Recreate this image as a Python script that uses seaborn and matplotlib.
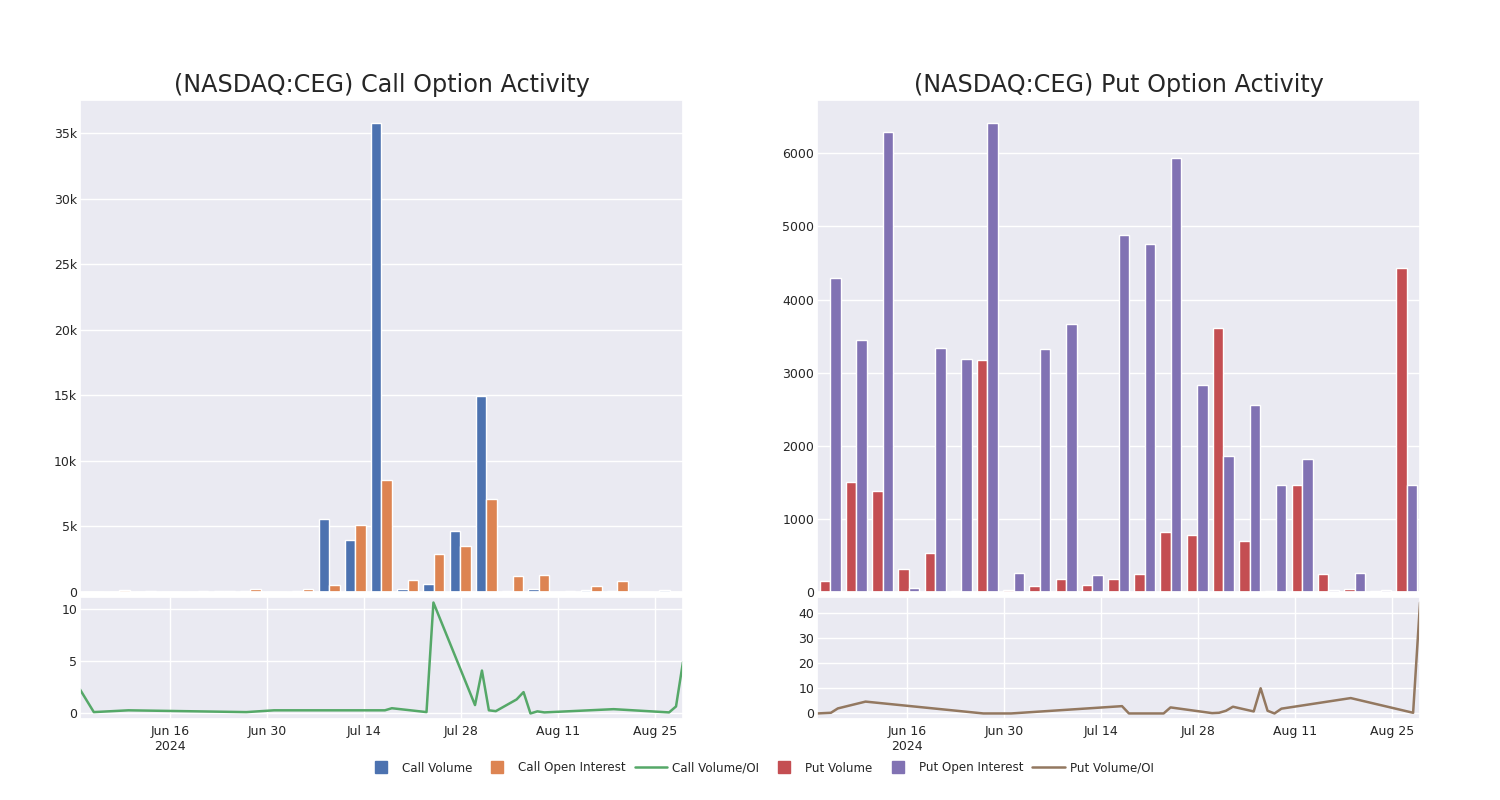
import numpy as np
import pandas as pd
import matplotlib
matplotlib.use("Agg")
import matplotlib.pyplot as plt
import matplotlib.ticker as mticker
from matplotlib.lines import Line2D
import seaborn as sns

# dates of the records (same for call and put)
dates = ["2024-06-03", "2024-06-05", "2024-06-06", "2024-06-10", "2024-06-27",
         "2024-07-01", "2024-07-17", "2024-07-18", "2024-07-23", "2024-07-24",
         "2024-07-30", "2024-07-31", "2024-08-01", "2024-08-02", "2024-08-05",
         "2024-08-06", "2024-08-07", "2024-08-08", "2024-08-09", "2024-08-19",
         "2024-08-27", "2024-08-28", "2024-08-29"]

call_volume = [0, 10, 30, 0, 20, 40, 70, 10, 40, 5547, 3937, 35762, 256, 639,
               4652, 14980, 50, 230, 0, 150, 70, 5, 180]
call_oi = [20, 150, 100, 0, 50, 40, 200, 30, 250, 511, 5112, 8563, 895, 2863,
           3476, 7132, 1227, 1278, 50, 435, 818, 10, 20]
call_ratio = [2.3, 0.13, np.nan, 0.3, 0.13, 0.3, 0.3, 0.5, 0.13, 10.6, 0.8, 4.1,
              0.3, 0.22, 1.34, 2.04, 0.0, 0.2, 0.1, 0.41, 0.1, 0.67, 4.9]

put_volume = [156, 1498, 1383, 321, 531, 9, 3174, 23, 82, 179, 92, 179, 247,
              815, 779, 3610, 696, 14, 1470, 247, 41, 9, 4430]
put_oi = [4301, 3440, 6294, 60, 3339, 3188, 6409, 261, 3317, 3660, 229, 4888,
          4764, 5932, 2836, 1864, 2561, 1470, 1819, 32, 266, 23, 1470]
put_ratio = [0, 0.27, 2.0, 4.7, 0, 0, 2.9, 0, 0, 2.4, 0.13, 0.27, 1.07, 2.67,
             0.8, 10, 1.07, 0, 1.9, 6.1, np.nan, 0.27, 44]

ticker = "NASDAQ:CEG"

sns.set_theme(style="darkgrid")
pal = sns.color_palette("deep")
c_call_vol, c_call_oi, c_call_ratio = pal[0], pal[1], pal[2]
c_put_vol, c_put_oi, c_put_ratio = pal[3], pal[4], pal[5]

fig = plt.figure(figsize=(15, 8), dpi=100)


def bar_panel(left, vol, oi, title, colors, kfmt):
    ax = fig.add_axes([left, 0.26, 0.402, 0.615])
    df = pd.DataFrame({"date": dates * 2,
                       "value": vol + oi,
                       "kind": ["vol"] * len(dates) + ["oi"] * len(dates)})
    sns.barplot(data=df, x="date", y="value", hue="kind", palette=colors,
                saturation=1, legend=False, ax=ax)
    ax.set_xticks(range(0, len(dates), 5))
    ax.tick_params(labelbottom=False, labelsize=9, length=0)
    ax.tick_params(axis="y", pad=2)
    ax.set_xlabel("")
    ax.set_ylabel("")
    ax.set_title(title, fontsize=17.2)
    if kfmt:
        ax.yaxis.set_major_formatter(mticker.FuncFormatter(
            lambda v, p: "0" if v == 0 else f"{int(v / 1000)}k"))
    return ax


def line_panel(left, ratio, color, step=None):
    ax = fig.add_axes([left, 0.10125, 0.402, 0.1525])
    s = pd.DataFrame({"date": pd.to_datetime(dates), "ratio": ratio}).dropna()
    sns.lineplot(data=s, x="date", y="ratio", color=color, linewidth=1.8, ax=ax)
    ax.set_xlim(s["date"].min(), s["date"].max())
    ticks = pd.date_range("2024-06-16", "2024-08-25", freq="14D")
    labels = [d.strftime("%b %d") for d in ticks]
    labels[0] = labels[0] + "\n2024"
    ax.set_xticks(ticks)
    ax.set_xticklabels(labels)
    if step:
        ax.yaxis.set_major_locator(mticker.MultipleLocator(step))
    ax.tick_params(labelsize=9, length=0)
    ax.tick_params(axis="y", pad=2)
    ax.tick_params(axis="x", pad=4)
    ax.set_xlabel("")
    ax.set_ylabel("")
    return ax


bar_panel(0.0533, call_volume, call_oi, f"({ticker}) Call Option Activity",
          [c_call_vol, c_call_oi], True)
bar_panel(0.5447, put_volume, put_oi, f"({ticker}) Put Option Activity",
          [c_put_vol, c_put_oi], False)
line_panel(0.0533, call_ratio, c_call_ratio, 5)
line_panel(0.5447, put_ratio, c_put_ratio, 10)

handles = [
    Line2D([], [], marker="s", linestyle="none", color=c_call_vol, markersize=8),
    Line2D([], [], marker="s", linestyle="none", color=c_call_oi, markersize=8),
    Line2D([], [], color=c_call_ratio, linewidth=1.8),
    Line2D([], [], marker="s", linestyle="none", color=c_put_vol, markersize=8),
    Line2D([], [], marker="s", linestyle="none", color=c_put_oi, markersize=8),
    Line2D([], [], color=c_put_ratio, linewidth=1.8),
]
labels = ["Call Volume", "Call Open Interest", "Call Volume/OI",
          "Put Volume", "Put Open Interest", "Put Volume/OI"]
fig.legend(handles, labels, loc="center", bbox_to_anchor=(0.506, 0.04), ncol=6,
           frameon=False, fontsize=8.6, handlelength=2.7, handletextpad=0.42,
           columnspacing=0.75)

fig.savefig("out.png")
